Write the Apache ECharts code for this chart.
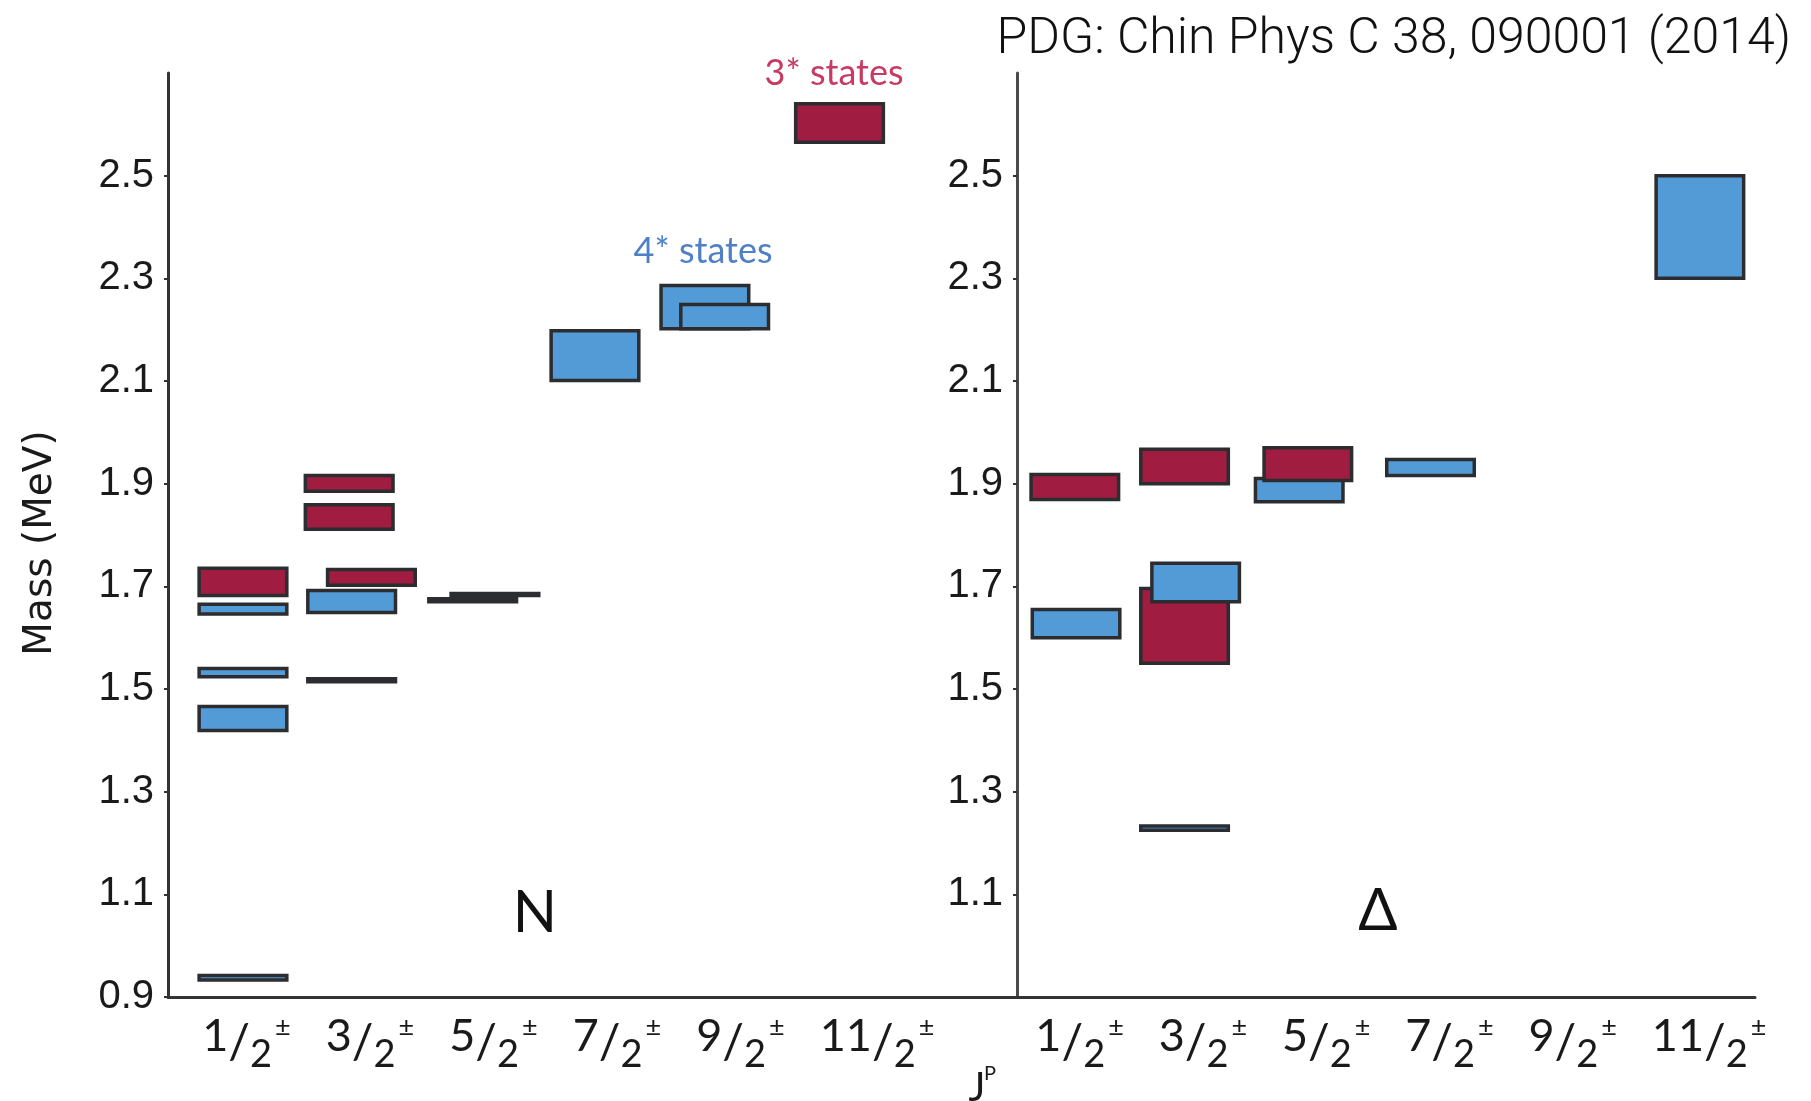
<!DOCTYPE html>
<html>
<head>
<meta charset="utf-8">
<script src="https://cdn.jsdelivr.net/npm/echarts@6/dist/echarts.min.js"></script>
<style>
  html, body { margin: 0; padding: 0; background: #ffffff; }
  #chart { width: 1811px; height: 1101px; }
</style>
</head>
<body>
<div id="chart"></div>
<script>
// Spin-parity columns and mass tick values (GeV)
const jpLabels = ['1/2', '3/2', '5/2', '7/2', '9/2', '11/2'];
const massTicks = [0.9, 1.1, 1.3, 1.5, 1.7, 1.9, 2.1, 2.3, 2.5];

// Nucleon resonances: J^P column, mass band (GeV), PDG star rating
const nJ     = [0, 0, 0, 0, 0, 1, 1, 1, 1, 1, 2, 2, 3, 4, 4, 5];
const nLow   = [0.933, 1.682, 1.646, 1.524, 1.419, 1.885, 1.811, 1.702, 1.649, 1.514, 1.682, 1.670, 2.101, 2.202, 2.202, 2.565];
const nHigh  = [0.942, 1.735, 1.665, 1.540, 1.466, 1.916, 1.859, 1.733, 1.692, 1.520, 1.686, 1.676, 2.198, 2.286, 2.249, 2.640];
const nStars = [4, 3, 4, 4, 4, 3, 3, 3, 4, 4, 4, 4, 4, 4, 4, 3];

// Delta resonances: J^P column, mass band (GeV), PDG star rating
const dJ     = [0, 0, 1, 1, 1, 1, 2, 2, 3, 5];
const dLow   = [1.869, 1.600, 1.900, 1.225, 1.550, 1.670, 1.865, 1.906, 1.916, 2.300];
const dHigh  = [1.918, 1.655, 1.967, 1.233, 1.696, 1.745, 1.910, 1.970, 1.947, 2.500];
const dStars = [3, 4, 3, 4, 3, 4, 4, 3, 4, 4];

// Layout: sideways nudge of each box inside its column (column units)
const nShift = [0, 0, 0, 0, 0, -0.14, -0.14, 0.04, -0.12, -0.12, 0.04, -0.14, -0.15, -0.26, -0.10, -0.17];
const dShift = [-0.01, 0, -0.12, -0.12, -0.12, -0.03, -0.19, -0.12, -0.125, 0.06];
const BOX_W = 0.71;
const LABEL_LEAD = 0.33;

const BLUE = '#529bd7';
const RED = '#a01c41';
const EDGE = '#2c2d31';
const AXIS = '#333333';

function renderBox(params, api) {
  const x = api.value(0);
  const lo = api.value(1);
  const hi = api.value(2);
  const stars = api.value(3);
  const p0 = api.coord([x - BOX_W / 2, hi]);
  const p1 = api.coord([x + BOX_W / 2, lo]);
  return {
    type: 'rect',
    shape: { x: p0[0], y: p0[1], width: p1[0] - p0[0], height: p1[1] - p0[1] },
    style: { fill: stars === 4 ? BLUE : RED, stroke: EDGE, lineWidth: 3.5 }
  };
}

function fraction(label) {
  const parts = label.split('/');
  return '{n|' + parts[0] + '}{s|/}{d|' + parts[1] + '}{p|±}';
}

const jpRich = {
  n: { fontFamily: 'Lato', fontSize: 45, lineHeight: 45, verticalAlign: 'top', color: '#1a1a1a' },
  s: { fontFamily: 'Lato', fontSize: 48, lineHeight: 60, verticalAlign: 'middle', color: '#1a1a1a' },
  d: { fontFamily: 'Lato', fontSize: 38, lineHeight: 38, verticalAlign: 'bottom', color: '#1a1a1a' },
  p: { fontFamily: 'Lato', fontSize: 27, lineHeight: 38, verticalAlign: 'top', color: '#1a1a1a', padding: [0, 0, 0, 3] }
};

function xAxisFor(gridIndex, min, max) {
  return {
    type: 'value', gridIndex, min, max,
    splitLine: { show: false },
    axisLine: { show: true, onZero: false, lineStyle: { color: AXIS, width: 3 } },
    axisTick: { show: false },
    axisLabel: {
      customValues: jpLabels.map((_, i) => i - LABEL_LEAD),
      formatter: (v) => fraction(jpLabels[Math.round(v + LABEL_LEAD)]),
      align: 'left',
      margin: 17,
      rich: jpRich
    }
  };
}

function yAxisFor(gridIndex, ticks, lineColor) {
  return {
    type: 'value', gridIndex, min: 0.9, max: 2.7,
    splitLine: { show: false },
    axisLine: { show: true, onZero: false, lineStyle: { color: lineColor, width: 3 } },
    axisTick: { show: true, customValues: ticks, length: 4, lineStyle: { color: AXIS, width: 2 } },
    axisLabel: {
      customValues: ticks,
      formatter: (v) => v.toFixed(1),
      margin: 14,
      fontFamily: 'Liberation Sans',
      fontSize: 40,
      color: '#1a1a1a'
    }
  };
}

const chart = echarts.init(document.getElementById('chart'), null, { renderer: 'canvas' });

chart.setOption({
  animation: false,
  backgroundColor: '#ffffff',
  grid: [
    { left: 168, right: 794, top: 73, bottom: 104 },
    { left: 1017, right: 56, top: 73, bottom: 104 }
  ],
  xAxis: [
    xAxisFor(0, -0.607, 6.267),
    xAxisFor(1, -0.479, 5.507)
  ],
  yAxis: [
    yAxisFor(0, massTicks, AXIS),
    yAxisFor(1, massTicks.slice(1), '#4a4a4a')
  ],
  series: [
    {
      type: 'custom', name: 'N', xAxisIndex: 0, yAxisIndex: 0,
      renderItem: renderBox,
      encode: { x: 0, y: [1, 2] },
      data: nJ.map((j, i) => [j + nShift[i], nLow[i], nHigh[i], nStars[i]])
    },
    {
      type: 'custom', name: 'Δ', xAxisIndex: 1, yAxisIndex: 1,
      renderItem: renderBox,
      encode: { x: 0, y: [1, 2] },
      data: dJ.map((j, i) => [j + dShift[i], dLow[i], dHigh[i], dStars[i]])
    }
  ],
  graphic: [
    {
      type: 'text', right: 20, top: 15,
      style: { text: 'PDG: Chin Phys C 38, 090001 (2014)', fontFamily: 'Roboto', fontWeight: 300, fontSize: 50, fill: '#111111' }
    },
    {
      type: 'text', x: 834, y: 73,
      style: { text: '3* states', fontFamily: 'Lato', fontSize: 36, fill: '#c93a62', align: 'center', verticalAlign: 'middle' }
    },
    {
      type: 'text', x: 703, y: 251,
      style: { text: '4* states', fontFamily: 'Lato', fontSize: 36, fill: '#4f80c7', align: 'center', verticalAlign: 'middle' }
    },
    {
      type: 'text', x: 535, y: 913,
      style: { text: 'N', fontFamily: 'Lato', fontSize: 58, fill: '#111111', align: 'center', verticalAlign: 'middle' }
    },
    {
      type: 'text', x: 1378, y: 911,
      style: { text: 'Δ', fontFamily: 'Lato', fontSize: 58, fill: '#111111', align: 'center', verticalAlign: 'middle' }
    },
    {
      type: 'text', x: 41, y: 543, rotation: Math.PI / 2,
      style: { text: 'Mass (MeV)', fontFamily: 'DejaVu Sans', fontSize: 39, fill: '#1a1a1a', align: 'center', verticalAlign: 'middle' }
    },
    {
      type: 'text', x: 977, y: 1068,
      style: { text: 'J', fontFamily: 'Lato', fontSize: 40, fill: '#1a1a1a', align: 'center', verticalAlign: 'top' }
    },
    {
      type: 'text', x: 990, y: 1064,
      style: { text: 'P', fontFamily: 'Lato', fontSize: 20, fill: '#1a1a1a', align: 'center', verticalAlign: 'top' }
    }
  ]
});
</script>
</body>
</html>
